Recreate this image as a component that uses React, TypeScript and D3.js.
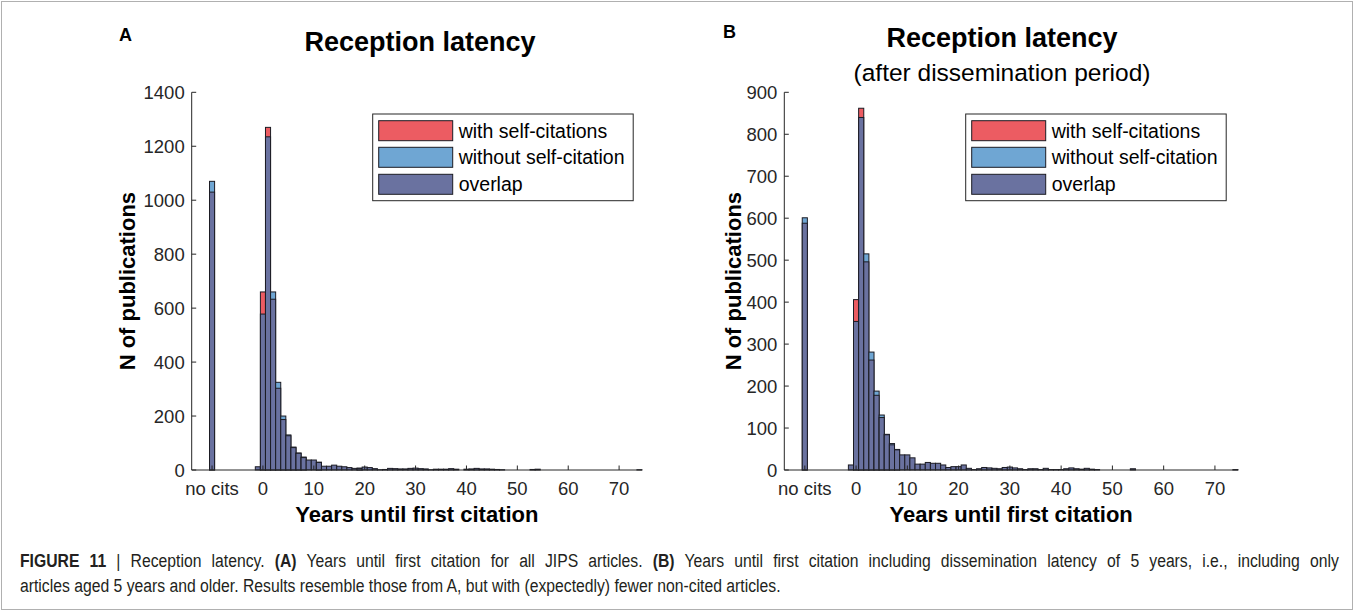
import React, { useEffect, useRef, useState } from "react";
import * as d3 from "d3";

const W = 1358;
const H = 612;

// Histogram bins run from year -1 to year 74 (one bar per year); "no cits" is drawn at -10
const firstBinYear = -1;
const noCitsPos = -10;
const xTickValues = [-10, 0, 10, 20, 30, 40, 50, 60, 70];
const xTickLabels = ["no cits", "0", "10", "20", "30", "40", "50", "60", "70"];

// Panel A: all JIPS articles
const aNoCitsWith = 1030;
const aNoCitsWithout = 1070;
const aWith = [
  12, 660, 1270, 633, 303, 187, 127, 83, 62, 46,
  37, 37, 28, 14, 14, 18, 14, 12, 9, 6,
  6, 11, 9, 5, 1, 2, 6, 5, 4, 4,
  6, 7, 5, 4, 1, 3, 3, 3, 5, 3,
  0, 3, 4, 6, 4, 4, 3, 2, 1, 0,
  0, 0, 0, 0, 2, 3, 0, 0, 0, 0,
  0, 0, 0, 0, 0, 0, 0, 0, 0, 0,
  0, 0, 0, 0, 0, 1,
];
const aWithout = [
  12, 578, 1235, 660, 325, 200, 130, 85, 63, 48,
  37, 37, 29, 14, 14, 18, 14, 12, 9, 6,
  7, 11, 9, 5, 1, 2, 6, 5, 4, 4,
  6, 7, 5, 4, 1, 3, 3, 3, 5, 3,
  0, 3, 4, 6, 4, 4, 3, 2, 1, 0,
  0, 0, 0, 0, 2, 3, 0, 0, 0, 0,
  0, 0, 0, 0, 0, 0, 0, 0, 0, 0,
  0, 0, 0, 0, 0, 1,
];
const aYTicks = [0, 200, 400, 600, 800, 1000, 1200, 1400];

// Panel B: articles aged 5 years and older
const bNoCitsWith = 588;
const bNoCitsWithout = 601;
const bWith = [
  12, 406, 862, 496, 262, 178, 125, 84, 60, 48,
  36, 36, 29, 14, 14, 18, 16, 16, 12, 6,
  8, 8, 12, 4, 1, 3, 6, 5, 4, 3,
  6, 7, 5, 3, 1, 3, 3, 1, 4, 1,
  1, 1, 3, 5, 3, 2, 4, 2, 1, 0,
  0, 0, 0, 0, 0, 3, 0, 0, 0, 0,
  0, 0, 0, 0, 0, 0, 0, 0, 0, 0,
  0, 0, 0, 0, 0, 1,
];
const bWithout = [
  12, 354, 840, 515, 281, 188, 131, 85, 63, 49,
  36, 36, 29, 14, 14, 18, 16, 16, 12, 6,
  8, 8, 12, 4, 1, 3, 6, 5, 4, 3,
  6, 7, 5, 3, 1, 3, 3, 1, 4, 1,
  1, 1, 3, 5, 3, 2, 4, 2, 1, 0,
  0, 0, 0, 0, 0, 3, 0, 0, 0, 0,
  0, 0, 0, 0, 0, 0, 0, 0, 0, 0,
  0, 0, 0, 0, 0, 1,
];
const bYTicks = [0, 100, 200, 300, 400, 500, 600, 700, 800, 900];

const legendLabels = ["with self-citations", "without self-citation", "overlap"];
const RED = "#ec5c62";
const BLUE = "#6fa6d3";
const OVER = "#6a72a0";
const legendColors = [RED, BLUE, OVER];

// Caption text (line 1 is justified in the original)
const captionLine1 = [
  { text: "FIGURE 11", bold: true },
  { text: " | Reception latency. ", bold: false },
  { text: "(A)", bold: true },
  { text: " Years until first citation for all JIPS articles. ", bold: false },
  { text: "(B)", bold: true },
  { text: " Years until first citation including dissemination latency of 5 years, i.e., including only", bold: false },
];
const captionLine2 =
  "articles aged 5 years and older. Results resemble those from A, but with (expectedly) fewer non-cited articles.";

const FONT = "'Liberation Sans', Arial, Helvetica, sans-serif";
const AXIS = "#262626";
const EDGE = "#1c1c24";

type PanelProps = {
  letter: string;
  letterX: number;
  letterY: number;
  titleLines: { text: string; bold: boolean; y: number; size: number }[];
  titleX: number;
  x0: number;
  x1: number;
  yMax: number;
  yTicks: number[];
  withVals: number[];
  withoutVals: number[];
  noWith: number;
  noWithout: number;
  legendX: number;
  ylabelX: number;
};

function Panel(p: PanelProps) {
  const top = 92.3;
  const bottom = 470;
  const x = d3.scaleLinear().domain([-14, 74.5]).range([p.x0, p.x1]);
  const y = d3.scaleLinear().domain([0, p.yMax]).range([bottom, top]);

  const bins = p.withVals.map((w, i) => ({
    year: firstBinYear + i,
    w,
    wo: p.withoutVals[i],
  }));
  bins.push({ year: noCitsPos, w: p.noWith, wo: p.noWithout });

  const bars: React.ReactNode[] = [];
  bins.forEach((b, i) => {
    const hi = Math.max(b.w, b.wo);
    const lo = Math.min(b.w, b.wo);
    if (hi <= 0) return;
    const bx0 = x(b.year - 0.5);
    const bx1 = x(b.year + 0.5);
    const hiColor = b.w > b.wo ? RED : b.wo > b.w ? BLUE : OVER;
    bars.push(
      <rect key={`h${i}`} x={bx0} y={y(hi)} width={bx1 - bx0} height={bottom - y(hi)}
        fill={hiColor} stroke={EDGE} strokeWidth={1} />
    );
    if (lo > 0 && lo < hi) {
      bars.push(
        <rect key={`l${i}`} x={bx0} y={y(lo)} width={bx1 - bx0} height={bottom - y(lo)}
          fill={OVER} stroke={EDGE} strokeWidth={1} />
      );
    }
  });

  const lgY = 114;
  const lgW = 260.5;
  const lgH = 86.7;
  const rowTops = [120.7, 147.3, 174.3];

  return (
    <g fontFamily={FONT}>
      <text x={p.letterX} y={p.letterY} fontSize={18} fontWeight="bold" fill="#000">{p.letter}</text>
      {p.titleLines.map((t, i) => (
        <text key={i} x={p.titleX} y={t.y} textAnchor="middle" fontSize={t.size}
          fontWeight={t.bold ? "bold" : "normal"} fill="#000">{t.text}</text>
      ))}
      {bars}
      {/* axes */}
      <line x1={p.x0} x2={p.x0} y1={top} y2={bottom} stroke={AXIS} strokeWidth={1} />
      <line x1={p.x0} x2={p.x1} y1={bottom} y2={bottom} stroke={AXIS} strokeWidth={1} />
      {p.yTicks.map((t) => (
        <g key={`y${t}`}>
          <line x1={p.x0} x2={p.x0 + 4.5} y1={y(t)} y2={y(t)} stroke={AXIS} strokeWidth={1} />
          <text x={p.x0 - 7} y={y(t)} dy="0.36em" textAnchor="end" fontSize={18.5} fill={AXIS}>{t}</text>
        </g>
      ))}
      {xTickValues.map((t, i) => (
        <g key={`x${t}`}>
          <line x1={x(t)} x2={x(t)} y1={bottom} y2={bottom - 4.5} stroke={AXIS} strokeWidth={1} />
          <text x={x(t)} y={495} textAnchor="middle" fontSize={18.5} fill={AXIS}>{xTickLabels[i]}</text>
        </g>
      ))}
      <text x={(p.x0 + p.x1) / 2} y={522} textAnchor="middle" fontSize={22} fontWeight="bold" fill="#000">
        Years until first citation
      </text>
      <text transform={`translate(${p.ylabelX},${(top + bottom) / 2}) rotate(-90)`} dy="0.36em"
        textAnchor="middle" fontSize={22} fontWeight="bold" fill="#000">
        N of publications
      </text>
      {/* legend */}
      <rect x={p.legendX} y={lgY} width={lgW} height={lgH} fill="#fff" stroke={AXIS} strokeWidth={1} />
      {legendLabels.map((lab, i) => (
        <g key={lab}>
          <rect x={p.legendX + 6} y={rowTops[i]} width={74} height={20} fill={legendColors[i]}
            stroke={EDGE} strokeWidth={1} />
          <text x={p.legendX + 86} y={rowTops[i] + 10} dy="0.36em" fontSize={19.5} fill="#000">{lab}</text>
        </g>
      ))}
    </g>
  );
}

function Caption() {
  const line1Ref = useRef<SVGTextElement>(null);
  const line2Ref = useRef<SVGTextElement>(null);
  const [sx, setSx] = useState(0.8);
  const [ws, setWs] = useState(0);
  useEffect(() => {
    const e1 = line1Ref.current;
    const e2 = line2Ref.current;
    if (!e1 || !e2) return;
    const w1 = e1.getComputedTextLength();
    const w2 = e2.getComputedTextLength();
    if (w1 <= 0 || w2 <= 0) return;
    const s = 760 / w2;
    const spaces = captionLine1.map((d) => d.text).join("").split(" ").length - 1;
    const extra = (1318 / s - w1) / spaces;
    setSx(s);
    setWs(Math.max(0, extra));
  }, []);
  return (
    <g transform={`translate(20,0) scale(${sx},1)`}
      fontFamily="'Liberation Sans', Arial, sans-serif" fontSize={19} fill="#231f20">
      <text ref={line1Ref} x={0} y={567} wordSpacing={ws}>
        {captionLine1.map((d, i) => (
          <tspan key={i} fontWeight={d.bold ? "bold" : "normal"}>{d.text}</tspan>
        ))}
      </text>
      <text ref={line2Ref} x={0} y={592}>{captionLine2}</text>
    </g>
  );
}

export default function App() {
  return (
    <div style={{ position: "absolute", left: 0, top: 0 }}>
      <svg width={W} height={H} viewBox={`0 0 ${W} ${H}`} style={{ display: "block" }}>
        <rect x={0} y={0} width={W} height={H} fill="#fff" />
        <rect x={1.5} y={1.5} width={1351} height={608} fill="none" stroke="#b0b0b0" strokeWidth={1} />
        <Panel
          letter="A" letterX={119} letterY={41}
          titleLines={[{ text: "Reception latency", bold: true, y: 51, size: 27 }]}
          titleX={420}
          x0={191.7} x1={642} yMax={1400} yTicks={aYTicks}
          withVals={aWith} withoutVals={aWithout} noWith={aNoCitsWith} noWithout={aNoCitsWithout}
          legendX={372.7} ylabelX={127}
        />
        <Panel
          letter="B" letterX={723} letterY={38}
          titleLines={[
            { text: "Reception latency", bold: true, y: 47, size: 27 },
            { text: "(after dissemination period)", bold: false, y: 81, size: 24.5 },
          ]}
          titleX={1002}
          x0={784.3} x1={1238} yMax={900} yTicks={bYTicks}
          withVals={bWith} withoutVals={bWithout} noWith={bNoCitsWith} noWithout={bNoCitsWithout}
          legendX={965.7} ylabelX={733}
        />
        <Caption />
      </svg>
    </div>
  );
}
